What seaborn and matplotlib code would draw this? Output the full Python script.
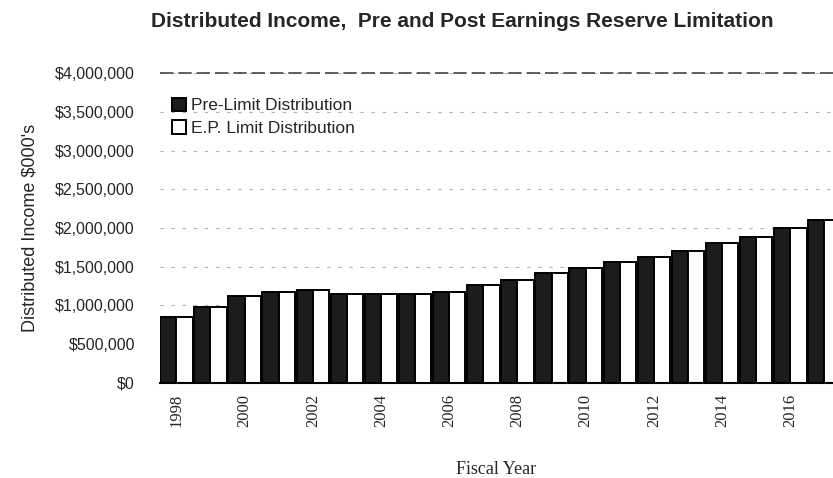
import numpy as np
import pandas as pd
import matplotlib.pyplot as plt
import seaborn as sns

years = list(range(1998, 2018))
pre_limit = [850000, 980000, 1120000, 1170000, 1200000, 1150000, 1150000, 1150000, 1170000, 1260000,
             1330000, 1420000, 1480000, 1560000, 1630000, 1700000, 1810000, 1880000, 2000000, 2100000]
ep_limit = [850000, 980000, 1120000, 1170000, 1200000, 1150000, 1150000, 1150000, 1170000, 1260000,
            1330000, 1420000, 1480000, 1560000, 1630000, 1700000, 1810000, 1880000, 2000000, 2100000]
series_names = ["Pre-Limit Distribution", "E.P. Limit Distribution"]
y_ticks = [0, 500000, 1000000, 1500000, 2000000, 2500000, 3000000, 3500000, 4000000]

df = pd.DataFrame({
    "year": [str(y) for y in years] * 2,
    "value": pre_limit + ep_limit,
    "series": [series_names[0]] * len(years) + [series_names[1]] * len(years),
})

sns.set_style("white")
plt.rcParams["font.family"] = ["Liberation Sans", "DejaVu Sans"]

fig = plt.figure(figsize=(8.33, 4.78), dpi=100)
ax = fig.add_axes([0.192, 0.199, 0.808, 0.648])

ax.yaxis.grid(True, linestyle=(0, (3, 7)), color="#b0b0b0", linewidth=0.8)
ax.set_axisbelow(True)

sns.barplot(data=df, x="year", y="value", hue="series", ax=ax,
            palette=["#1c1c1c", "white"], width=0.95, edgecolor="black",
            linewidth=1.4, saturation=1)

ax.set_ylim(0, 4000000)
ax.set_xlim(-0.48, 19.25)
ax.set_yticks(y_ticks)
ax.set_yticklabels([f"${v:,.0f}" for v in y_ticks], fontsize=11.5)
labels = [str(y) if (y - 1998) % 2 == 0 else "" for y in years]
ax.set_xticks(range(len(years)))
ax.set_xticklabels(labels, rotation=90, fontsize=12, fontfamily=["Liberation Serif"])
ax.tick_params(axis="y", length=0, pad=18)
ax.tick_params(axis="x", length=0, pad=8)
for side in ["top", "right", "left"]:
    ax.spines[side].set_visible(False)
ax.spines["bottom"].set_color("black")
ax.spines["bottom"].set_linewidth(1.5)
ax.axhline(4000000, color="#444444", linewidth=1.2, linestyle=(0, (8, 3)), clip_on=False)

ax.set_xlabel("Fiscal Year", fontsize=13, labelpad=24, fontfamily=["Liberation Serif"])
ax.set_ylabel("Distributed Income $000's", fontsize=13, labelpad=12)
fig.suptitle("Distributed Income,  Pre and Post Earnings Reserve Limitation",
             fontsize=15, fontweight="bold", x=0.555, y=0.975)

leg = ax.legend(loc="upper left", bbox_to_anchor=(0.0, 0.96), frameon=False,
                fontsize=12.5, handlelength=0.8, handleheight=0.8,
                handletextpad=0.3, labelspacing=0.4, borderpad=0.2)

fig.savefig("out.png", dpi=100)
